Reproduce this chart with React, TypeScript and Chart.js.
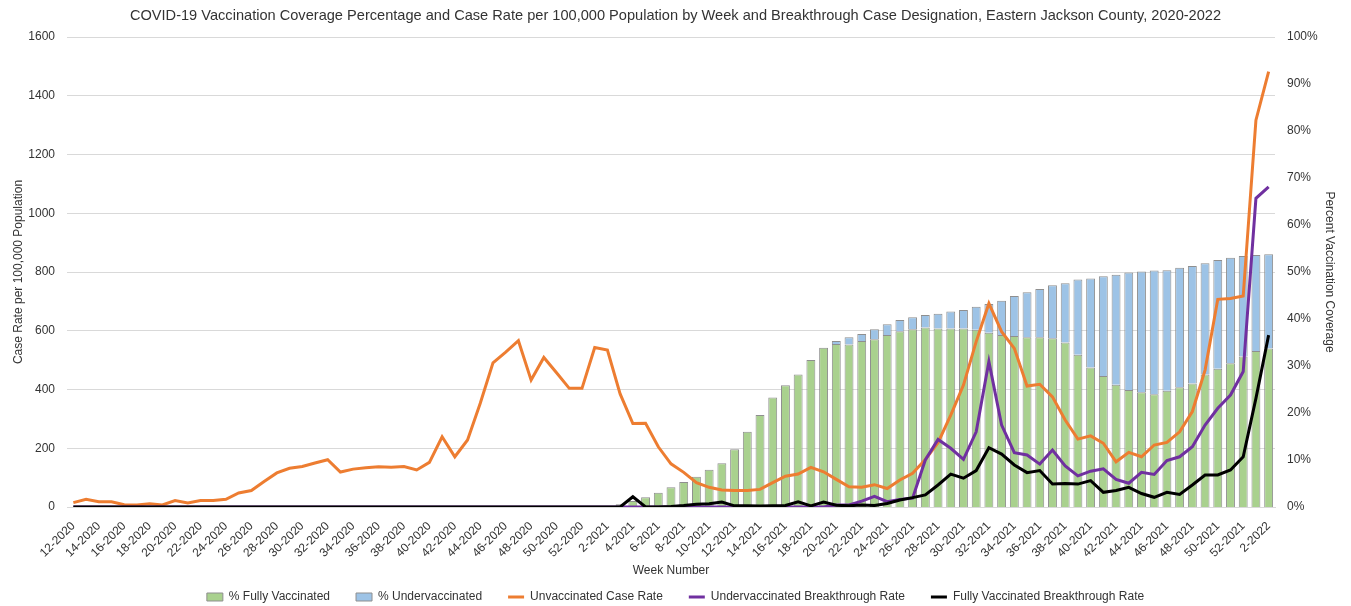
import React, { useEffect, useRef } from 'react';
import { Chart, registerables } from 'chart.js';

Chart.register(...registerables);

const weekLabels = [
  '12-2020', '13-2020', '14-2020', '15-2020', '16-2020', '17-2020', '18-2020', '19-2020', '20-2020', '21-2020',
  '22-2020', '23-2020', '24-2020', '25-2020', '26-2020', '27-2020', '28-2020', '29-2020', '30-2020', '31-2020',
  '32-2020', '33-2020', '34-2020', '35-2020', '36-2020', '37-2020', '38-2020', '39-2020', '40-2020', '41-2020',
  '42-2020', '43-2020', '44-2020', '45-2020', '46-2020', '47-2020', '48-2020', '49-2020', '50-2020', '51-2020',
  '52-2020', '1-2021', '2-2021', '3-2021', '4-2021', '5-2021', '6-2021', '7-2021', '8-2021', '9-2021',
  '10-2021', '11-2021', '12-2021', '13-2021', '14-2021', '15-2021', '16-2021', '17-2021', '18-2021', '19-2021',
  '20-2021', '21-2021', '22-2021', '23-2021', '24-2021', '25-2021', '26-2021', '27-2021', '28-2021', '29-2021',
  '30-2021', '31-2021', '32-2021', '33-2021', '34-2021', '35-2021', '36-2021', '37-2021', '38-2021', '39-2021',
  '40-2021', '41-2021', '42-2021', '43-2021', '44-2021', '45-2021', '46-2021', '47-2021', '48-2021', '49-2021',
  '50-2021', '51-2021', '52-2021', '1-2022', '2-2022',
];

// % Fully Vaccinated (right axis, stacked bottom)
const fullyVaccinatedPct = [
  null, null, null, null, null, null, null, null, null, null,
  null, null, null, null, null, null, null, null, null, null,
  null, null, null, null, null, null, null, null, null, null,
  null, null, null, null, null, null, null, null, null, null,
  null, null, null, 0.6, 1.3, 2.1, 3.05, 4.2, 5.3, 6.45,
  7.9, 9.3, 12.3, 16.0, 19.6, 23.3, 25.9, 28.2, 31.3, 33.9,
  34.7, 34.6, 35.3, 35.7, 36.6, 37.4, 37.8, 38.2, 38.0, 38.0,
  38.0, 37.7, 37.1, 36.6, 36.4, 36.1, 36.1, 35.9, 35.0, 32.4,
  29.7, 27.9, 26.0, 24.9, 24.4, 24.0, 24.75, 25.5, 26.3, 28.2,
  29.4, 30.6, 32.0, 33.2, 33.7,
];

// % Undervaccinated (right axis, stacked on top)
const underVaccinatedPct = [
  null, null, null, null, null, null, null, null, null, null,
  null, null, null, null, null, null, null, null, null, null,
  null, null, null, null, null, null, null, null, null, null,
  null, null, null, null, null, null, null, null, null, null,
  null, null, null, null, null, null, null, null, null, null,
  null, null, null, null, null, null, null, null, null, null,
  0.6, 1.5, 1.5, 2.1, 2.3, 2.4, 2.6, 2.65, 3.1, 3.6,
  3.9, 4.9, 6.1, 7.3, 8.5, 9.6, 10.3, 11.3, 12.6, 16.0,
  18.9, 21.2, 23.4, 25.0, 25.7, 26.3, 25.65, 25.4, 25.0, 23.65,
  23.15, 22.45, 21.4, 20.4, 20.1,
];

const unvaccinatedRate = [
  15, 26, 18, 18, 8, 7, 11, 7, 22, 14,
  22, 22, 26, 48, 56, 87, 116, 132, 138, 150,
  161, 119, 129, 134, 137, 135, 138, 126, 152, 239,
  171, 228, 353, 491, 527, 566, 432, 509, 457, 404,
  404, 543, 534, 385, 284, 285, 205, 147, 118, 83,
  67, 58, 56, 56, 60, 83, 105, 112, 135, 120,
  94, 69, 67, 76, 63, 92, 115, 162, 219, 313,
  415, 563, 693, 597, 540, 412, 418, 375, 296, 231,
  242, 217, 154, 186, 171, 211, 220, 256, 325, 466,
  707, 710, 718, 1317, 1482,
];

const underVaccinatedRate = [
  0, 0, 0, 0, 0, 0, 0, 0, 0, 0,
  0, 0, 0, 0, 0, 0, 0, 0, 0, 0,
  0, 0, 0, 0, 0, 0, 0, 0, 0, 0,
  0, 0, 0, 0, 0, 0, 0, 0, 0, 0,
  0, 0, 0, 0, 0, 0, 0, 0, 0, 0,
  0, 0, 0, 0, 0, 0, 0, 0, 0, 0,
  7, 7, 20, 36, 18, 26, 30, 160, 230, 200,
  162, 256, 495, 279, 185, 177, 146, 194, 140, 106,
  122, 130, 94, 81, 118, 111, 158, 171, 205, 279,
  336, 381, 461, 1051, 1090,
];

const fullyVaccinatedRate = [
  0, 0, 0, 0, 0, 0, 0, 0, 0, 0,
  0, 0, 0, 0, 0, 0, 0, 0, 0, 0,
  0, 0, 0, 0, 0, 0, 0, 0, 0, 0,
  0, 0, 0, 0, 0, 0, 0, 0, 0, 0,
  0, 0, 0, 0, 35, 0, 0, 2, 5, 9,
  11, 17, 4, 4, 3, 4, 5, 18, 4, 17,
  6, 4, 7, 5, 12, 24, 32, 41, 75, 112,
  98, 124, 202, 180, 143, 117, 124, 78, 80, 78,
  90, 50, 56, 67, 46, 33, 50, 43, 75, 109,
  109, 126, 171, 370, 585,
];

const leftTicks = [0, 200, 400, 600, 800, 1000, 1200, 1400, 1600];
const rightTicks = [0, 10, 20, 30, 40, 50, 60, 70, 80, 90, 100];

const FONT = "'Liberation Sans', Arial, sans-serif";
const TEXT = '#333333';
const BAR_EDGE = '#8F8F8F';

export default function App() {
  const ref = useRef<HTMLCanvasElement | null>(null);

  useEffect(() => {
    document.body.style.margin = '0';
    const canvas = ref.current;
    if (!canvas) return;
    const chart = new Chart(canvas, {
      data: {
        labels: weekLabels,
        datasets: [
          {
            type: 'bar',
            label: '% Fully Vaccinated',
            data: fullyVaccinatedPct,
            yAxisID: 'y1',
            stack: 'cov',
            backgroundColor: '#A9D18E',
            borderColor: BAR_EDGE,
            borderWidth: 1,
            barPercentage: 0.7,
            categoryPercentage: 1,
            order: 10,
          },
          {
            type: 'bar',
            label: '% Undervaccinated',
            data: underVaccinatedPct,
            yAxisID: 'y1',
            stack: 'cov',
            backgroundColor: '#9DC3E6',
            borderColor: BAR_EDGE,
            borderWidth: 1,
            barPercentage: 0.7,
            categoryPercentage: 1,
            order: 10,
          },
          {
            type: 'line',
            label: 'Unvaccinated Case Rate',
            data: unvaccinatedRate,
            yAxisID: 'y',
            borderColor: '#ED7D31',
            backgroundColor: '#ED7D31',
            borderWidth: 3,
            pointRadius: 0,
            tension: 0,
            order: 3,
          },
          {
            type: 'line',
            label: 'Undervaccinated Breakthrough Rate',
            data: underVaccinatedRate,
            yAxisID: 'y',
            borderColor: '#7030A0',
            backgroundColor: '#7030A0',
            borderWidth: 3,
            pointRadius: 0,
            tension: 0,
            order: 2,
          },
          {
            type: 'line',
            label: 'Fully Vaccinated Breakthrough Rate',
            data: fullyVaccinatedRate,
            yAxisID: 'y',
            borderColor: '#000000',
            backgroundColor: '#000000',
            borderWidth: 3,
            pointRadius: 0,
            tension: 0,
            order: 1,
          },
        ],
      },
      options: {
        responsive: false,
        animation: false,
        devicePixelRatio: 1,
        layout: { padding: { left: 0, right: 0, top: 0, bottom: 0 } },
        plugins: {
          title: {
            display: true,
            text: 'COVID-19 Vaccination Coverage Percentage and Case Rate per 100,000 Population by Week and Breakthrough Case Designation, Eastern Jackson County, 2020-2022',
            color: TEXT,
            font: { family: FONT, size: 14.6, weight: 'normal' },
            padding: { top: 7, bottom: 12.5 },
          },
          legend: {
            position: 'bottom',
            maxHeight: 41,
            labels: {
              color: TEXT,
              font: { family: FONT, size: 12 },
              usePointStyle: true,
              pointStyleWidth: 16,
              boxHeight: 8,
              padding: 26,
              sort: (a: any, b: any) => a.datasetIndex - b.datasetIndex,
              generateLabels: (ch: any) => {
                const items = Chart.defaults.plugins.legend.labels.generateLabels(ch);
                return items.map((it: any) => {
                  const ds: any = ch.data.datasets[it.datasetIndex];
                  if (ds.type === 'line') {
                    return { ...it, pointStyle: 'line', lineWidth: 3, strokeStyle: ds.borderColor, fillStyle: ds.borderColor };
                  }
                  return { ...it, pointStyle: 'rect', lineWidth: 1, strokeStyle: BAR_EDGE, fillStyle: ds.backgroundColor };
                });
              },
            },
          },
          tooltip: { enabled: false },
        },
        scales: {
          x: {
            stacked: true,
            grid: { display: false },
            border: { display: true, color: '#D9D9D9' },
            ticks: {
              autoSkip: false,
              maxRotation: 45,
              minRotation: 45,
              color: TEXT,
              font: { family: FONT, size: 12 },
              padding: 4,
              callback: (_v: any, i: number) => (i % 2 === 0 ? weekLabels[i] : ''),
            },
            title: {
              display: true,
              text: 'Week Number',
              color: TEXT,
              font: { family: FONT, size: 12 },
              padding: { top: 0, bottom: -13 },
            },
            afterFit: (s: any) => { s.height = 58; },
          },
          y: {
            position: 'left',
            min: 0,
            max: 1600,
            afterBuildTicks: (s: any) => { s.ticks = leftTicks.map((v) => ({ value: v })); },
            grid: { color: '#D9D9D9', drawTicks: false },
            border: { display: false },
            ticks: { color: TEXT, font: { family: FONT, size: 12 }, padding: 12, callback: (v: any) => String(v) },
            title: {
              display: true,
              text: 'Case Rate per 100,000 Population',
              color: TEXT,
              font: { family: FONT, size: 12 },
              padding: { top: 11, bottom: 0 },
            },
            afterFit: (s: any) => { s.width = 67; },
          },
          y1: {
            position: 'right',
            stacked: true,
            min: 0,
            max: 100,
            afterBuildTicks: (s: any) => { s.ticks = rightTicks.map((v) => ({ value: v })); },
            grid: { display: false, drawTicks: false },
            border: { display: false },
            ticks: { color: TEXT, font: { family: FONT, size: 12 }, padding: 12, callback: (v: any) => v + '%' },
            title: {
              display: true,
              text: 'Percent Vaccination Coverage',
              color: TEXT,
              font: { family: FONT, size: 12 },
              padding: { top: 14, bottom: 0 },
            },
            afterFit: (s: any) => { s.width = 76; },
          },
        },
      },
    } as any);
    return () => chart.destroy();
  }, []);

  return (
    <div style={{ position: 'absolute', left: 0, top: 0, width: 1351, height: 606 }}>
      <canvas ref={ref} width={1351} height={606} style={{ display: 'block' }} />
    </div>
  );
}
